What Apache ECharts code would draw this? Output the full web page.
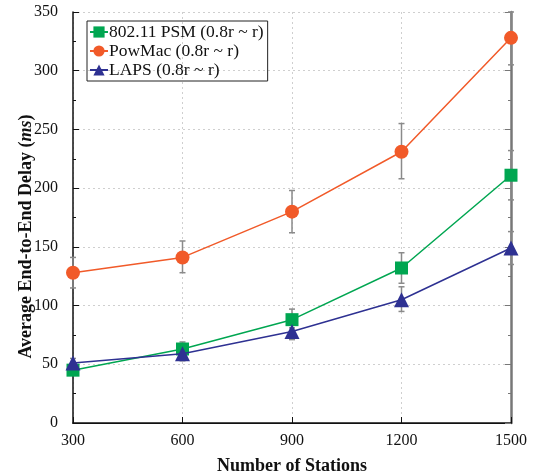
<!DOCTYPE html>
<html><head><meta charset="utf-8">
<script src="https://cdn.jsdelivr.net/npm/echarts@6/dist/echarts.min.js"></script>
<style>html,body{margin:0;padding:0;background:#fff}#c{width:534px;height:476px}</style>
</head><body><div id="c"></div>
<script>
var stations = [300, 600, 900, 1200, 1500];
var psm = [45, 63, 88, 132, 211];
var powmac = [128, 141, 180, 231, 328];
var laps = [51, 59, 78, 105, 149];
var psmLow = [41, 55, 81, 119, 190];
var psmHigh = [49, 69, 97, 145, 232];
var powLow = [115, 128, 162, 208, 305];
var powHigh = [141, 155, 198, 255, 350];
var lapsLow = [47, 53, 71, 95, 135];
var lapsHigh = [55, 66, 85, 116, 163];

var F = '"Liberation Serif","DejaVu Serif",serif';
function pairs(vals){ return stations.map(function(s,i){return [s, vals[i]];}); }
function errData(lo, hi){ return stations.map(function(s,i){return [s, lo[i], hi[i]];}); }
function errSeries(lo, hi, z){
  return {
    type:'custom', data: errData(lo,hi), z: z, silent:true,
    renderItem: function(params, api){
      var x = api.value(0);
      var a = api.coord([x, api.value(1)]);
      var b = api.coord([x, api.value(2)]);
      var w = 3;
      var st = {stroke:'#8a8a8a', lineWidth:1.5};
      return {type:'group', children:[
        {type:'line', shape:{x1:a[0],y1:a[1],x2:b[0],y2:b[1]}, style:st},
        {type:'line', shape:{x1:a[0]-w,y1:a[1],x2:a[0]+w,y2:a[1]}, style:st},
        {type:'line', shape:{x1:b[0]-w,y1:b[1],x2:b[0]+w,y2:b[1]}, style:st}
      ]};
    }
  };
}
var chart = echarts.init(document.getElementById('c'));
chart.setOption({
  animation:false,
  grid:{left:73, right:23, top:12, bottom:53, containLabel:false, outerBoundsMode:'none'},
  legend:{
    left:87, top:21, orient:'vertical', itemGap:1, padding:[2,4,2,2],
    borderColor:'#222', borderWidth:1, itemWidth:18, itemHeight:14,
    textStyle:{fontFamily:F, fontSize:17.5, color:'#111', padding:[0,0,0,-4]},
    data:['802.11 PSM (0.8r ~ r)','PowMac (0.8r ~ r)','LAPS (0.8r ~ r)']
  },
  xAxis:[{
    type:'value', min:300, max:1500, interval:300,
    name:'Number of Stations', nameLocation:'middle', nameGap:34,
    nameTextStyle:{fontFamily:F, fontSize:18, fontWeight:'bold', color:'#111'},
    axisLine:{lineStyle:{color:'#111', width:1.5}},
    axisTick:{inside:true, length:6, lineStyle:{color:'#111'}},
    axisLabel:{fontFamily:F, fontSize:16, color:'#111', margin:10, formatter:function(v){return String(v);}},
    splitLine:{show:true, lineStyle:{color:'#cfcfcf', type:[2,3]}}
  },{
    type:'value', position:'top', min:300, max:1500, interval:300,
    axisLine:{lineStyle:{color:'#111', width:1}}, axisTick:{show:false},
    axisLabel:{show:false}, splitLine:{show:false}
  }],
  yAxis:[{
    type:'value', min:0, max:350, interval:50,
    name:'{b|Average End-to-End Delay (}{i|ms}{b|)}', nameLocation:'middle', nameGap:38,
    nameMoveOverlap:false,
    nameTextStyle:{padding:[0,38,0,0], rich:{
      b:{fontFamily:F, fontSize:18, fontWeight:'bold', color:'#111'},
      i:{fontFamily:F, fontSize:18, fontWeight:'bold', fontStyle:'italic', color:'#111'}
    }},
    axisLine:{show:true, lineStyle:{color:'#111', width:1.5}},
    axisTick:{inside:true, length:6, lineStyle:{color:'#111'}},
    minorTick:{show:true, splitNumber:2, length:3, lineStyle:{color:'#111'}},
    axisLabel:{fontFamily:F, fontSize:16, color:'#111', margin:15},
    splitLine:{show:true, lineStyle:{color:'#cfcfcf', type:[2,3]}}
  },{
    type:'value', position:'right', min:0, max:350, interval:50,
    axisLine:{show:true, lineStyle:{color:'#777', width:2.5}},
    axisTick:{inside:true, length:6, lineStyle:{color:'#777'}},
    minorTick:{show:true, splitNumber:2, length:3, lineStyle:{color:'#777'}},
    axisLabel:{show:false}, splitLine:{show:false}
  }],
  series:[
    errSeries(psmLow, psmHigh, 1),
    errSeries(powLow, powHigh, 1),
    errSeries(lapsLow, lapsHigh, 1),
    {name:'802.11 PSM (0.8r ~ r)', type:'line', data:pairs(psm), z:3,
     symbol:'rect', symbolSize:13, itemStyle:{color:'#00a651'}, lineStyle:{color:'#00a651', width:1.5}},
    {name:'PowMac (0.8r ~ r)', type:'line', data:pairs(powmac), z:3,
     symbol:'circle', symbolSize:14, itemStyle:{color:'#f15a29'}, lineStyle:{color:'#f15a29', width:1.5}},
    {name:'LAPS (0.8r ~ r)', type:'line', data:pairs(laps), z:4,
     symbol:'triangle', symbolSize:15, itemStyle:{color:'#2e3192'}, lineStyle:{color:'#2e3192', width:1.5}}
  ]
});
</script></body></html>
